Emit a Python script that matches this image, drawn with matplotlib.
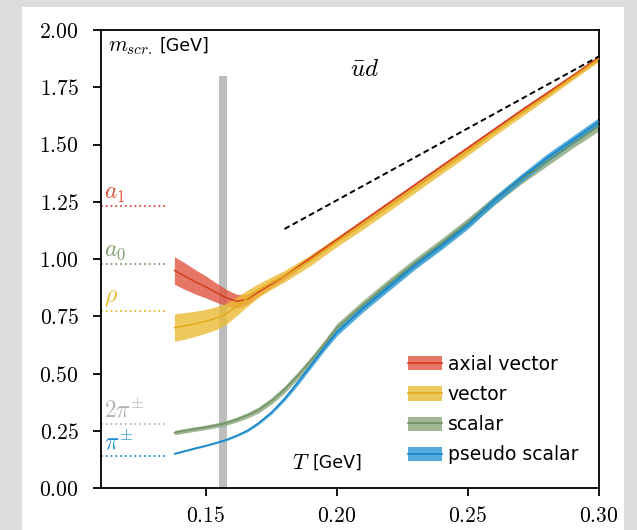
import numpy as np
import matplotlib
matplotlib.use("Agg")
import matplotlib.pyplot as plt
from matplotlib.patches import Patch, Rectangle
from matplotlib.lines import Line2D
from matplotlib.ticker import FormatStrFormatter

plt.rcParams['mathtext.fontset'] = 'cm'
plt.rcParams['font.family'] = ['DejaVu Sans']

# temperatures [GeV]
T = [0.138, 0.142, 0.146, 0.150, 0.154, 0.158, 0.162, 0.166, 0.170, 0.175,
     0.180, 0.185, 0.190, 0.195, 0.200, 0.210, 0.220, 0.230, 0.240, 0.250,
     0.260, 0.270, 0.280, 0.290, 0.300]

# screening masses [GeV] and half widths of the bands
axial = [0.950, 0.925, 0.900, 0.878, 0.853, 0.830, 0.815, 0.825, 0.855, 0.890,
         0.925, 0.965, 1.005, 1.045, 1.085, 1.165, 1.245, 1.325, 1.405, 1.485,
         1.565, 1.645, 1.722, 1.800, 1.880]
axial_err = [0.060, 0.058, 0.053, 0.048, 0.042, 0.036, 0.030, 0.022, 0.018, 0.015,
             0.013, 0.012, 0.012, 0.011, 0.011, 0.010, 0.010, 0.010, 0.010, 0.010,
             0.010, 0.010, 0.010, 0.010, 0.010]

vector = [0.700, 0.708, 0.717, 0.728, 0.742, 0.762, 0.795, 0.830, 0.862, 0.895,
          0.925, 0.960, 0.995, 1.035, 1.075, 1.150, 1.230, 1.310, 1.390, 1.470,
          1.553, 1.633, 1.713, 1.795, 1.875]
vector_err = [0.060, 0.058, 0.055, 0.052, 0.050, 0.046, 0.040, 0.035, 0.030, 0.027,
              0.025, 0.024, 0.023, 0.022, 0.021, 0.020, 0.020, 0.019, 0.018, 0.017,
              0.016, 0.015, 0.014, 0.013, 0.012]

scalar = [0.242, 0.250, 0.258, 0.265, 0.274, 0.285, 0.300, 0.318, 0.340, 0.380,
          0.430, 0.490, 0.555, 0.625, 0.700, 0.800, 0.895, 0.985, 1.070, 1.160,
          1.255, 1.345, 1.425, 1.505, 1.580]
scalar_err = [0.010, 0.010, 0.010, 0.010, 0.010, 0.010, 0.011, 0.012, 0.013, 0.014,
              0.015, 0.016, 0.017, 0.018, 0.019, 0.020, 0.020, 0.020, 0.020, 0.020,
              0.020, 0.020, 0.020, 0.020, 0.020]

pseudo = [0.150, 0.162, 0.174, 0.185, 0.198, 0.212, 0.230, 0.252, 0.283, 0.330,
          0.390, 0.460, 0.535, 0.610, 0.680, 0.785, 0.880, 0.975, 1.060, 1.150,
          1.255, 1.350, 1.440, 1.520, 1.600]
pseudo_err = [0.004, 0.004, 0.004, 0.004, 0.004, 0.005, 0.005, 0.006, 0.007, 0.008,
              0.010, 0.012, 0.013, 0.014, 0.015, 0.016, 0.017, 0.018, 0.018, 0.018,
              0.018, 0.018, 0.018, 0.018, 0.018]

# vacuum masses [GeV]
vac_labels = [r'$a_1$', r'$a_0$', r'$\rho$', r'$2\pi^{\pm}$', r'$\pi^{\pm}$']
vac_masses = [1.230, 0.980, 0.775, 0.279, 0.1396]
vac_colors = ['#e0503a', '#7f9f6f', '#e8b830', '#b5b5b5', '#1f8fd0']

# free limit line
free_T = [0.18, 0.30]
free_m = [1.131, 1.885]

# pseudo-critical temperature band
Tpc = [0.1550, 0.1580]

series = [
    ('axial vector', axial, axial_err, '#e05540', '#d23a1c'),
    ('vector', vector, vector_err, '#ecbb35', '#e5a81a'),
    ('scalar', scalar, scalar_err, '#87a57a', '#6f9163'),
    ('pseudo scalar', pseudo, pseudo_err, '#2a98d4', '#1684c8'),
]

fig = plt.figure(figsize=(6.37, 5.30), dpi=100, facecolor='#dcdcdc')
fig.patches.append(Rectangle((22 / 637, 0), (624 - 22) / 637, (530 - 7) / 530,
                             transform=fig.transFigure, facecolor='white',
                             edgecolor='none', zorder=-10))
ax = fig.add_axes([101 / 637, 42 / 530, 498 / 637, 458 / 530])
ax.set_facecolor('white')

ax.axvspan(Tpc[0], Tpc[1], ymax=0.9, color='#bdbdbd', lw=0, zorder=1)

handles = []
Tarr = np.array(T)
for name, m, e, fc, lc in series:
    m = np.array(m)
    e = np.array(e)
    ax.fill_between(Tarr, m - e, m + e, color=fc, alpha=0.8, lw=0, zorder=2)
    ax.plot(Tarr, m, color=lc, lw=1.0, zorder=3)
    handles.append((Patch(facecolor=fc, alpha=0.8, edgecolor='none'),
                    Line2D([], [], color=lc, lw=1.2)))

ax.plot(free_T, free_m, color='black', ls=(0, (3, 1.8)), lw=1.4, zorder=4)

for lab, mv, c in zip(vac_labels, vac_masses, vac_colors):
    ax.plot([0.11, 0.135], [mv, mv], color=c, ls=':', lw=1.3, zorder=2)
    ax.text(0.1113, mv + 0.005, lab, color=c, fontsize=17, va='bottom', ha='left')

ax.text(0.1125, 1.925, r'$m_{scr.}$', fontsize=15.5, va='center', ha='left')
ax.text(0.1322, 1.93, '[GeV]', fontsize=12.5, va='center', ha='left')
ax.text(0.2105, 1.83, r'$\bar{u}d$', fontsize=18, va='center', ha='center')
ax.text(0.1827, 0.11, r'$T$', fontsize=16, va='center', ha='left')
ax.text(0.1908, 0.11, '[GeV]', fontsize=12.5, va='center', ha='left')

ax.set_xlim(0.11, 0.30)
ax.set_ylim(0.0, 2.0)
ax.set_xticks([0.15, 0.20, 0.25, 0.30])
ax.set_yticks(np.arange(0, 2.01, 0.25))
ax.xaxis.set_major_formatter(FormatStrFormatter('$%.2f$'))
ax.yaxis.set_major_formatter(FormatStrFormatter('$%.2f$'))
ax.tick_params(direction='out', length=6, width=1.3, labelsize=15.5)
ax.tick_params(axis='x', pad=7)
ax.tick_params(axis='y', pad=10)
for s in ax.spines.values():
    s.set_linewidth(1.3)

ax.legend(handles, [s[0] for s in series], loc='lower right', frameon=False,
          bbox_to_anchor=(0.973, 0.035), borderaxespad=0,
          fontsize=13.5, handlelength=1.8, handleheight=0.8, handletextpad=0.3,
          labelspacing=0.6)

fig.savefig('out.png', dpi=100, facecolor=fig.get_facecolor())
